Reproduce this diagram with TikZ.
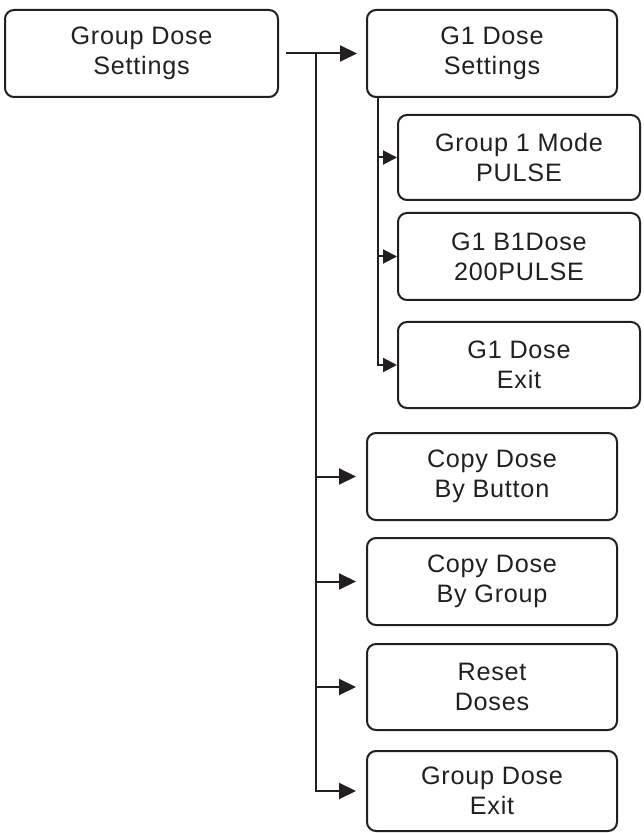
\documentclass[tikz,border=0pt]{standalone}
\usepackage{fontspec}
\setmainfont{Liberation Sans}[LetterSpace=3]
\usetikzlibrary{arrows.meta}
\definecolor{MenuInk}{RGB}{35,31,32}

\begin{document}
\begin{tikzpicture}[x=0.5pt, y=-0.5pt, every path/.style={MenuInk},
    menubox/.style={draw, line width=1pt, rounded corners=4.5pt, align=center, inner sep=0pt,
      font=\fontsize{12.6}{15}\selectfont, minimum height=43.5pt},
    wide/.style={minimum width=125pt},
    sub/.style={minimum width=121pt},
    link/.style={line width=1pt, -{Triangle[length=8.5pt, width=8pt]}}]
  \useasboundingbox (0,0) rectangle (643,833);
  \node[menubox, minimum width=136.5pt] (gds) at (141.5,53.5) {Group Dose\\Settings};
  \node[menubox, wide] (gset) at (492,53.5) {G1 Dose\\Settings};
  \node[menubox, sub, minimum height=42.5pt] (mode) at (519,157.5) {Group 1 Mode\\PULSE};
  \node[menubox, sub] (bdose) at (519,256.5) {G1 B1Dose\\200PULSE};
  \node[menubox, sub, minimum height=43pt] (gexit) at (519,365) {G1 Dose\\Exit};
  \node[menubox, wide] (cbtn) at (492,476.5) {Copy Dose\\By Button};
  \node[menubox, wide] (cgrp) at (492,581.5) {Copy Dose\\By Group};
  \node[menubox, wide, minimum height=43pt] (reset) at (492,687) {Reset\\Doses};
  \node[menubox, wide, minimum height=40pt] (gdexit) at (492,791) {Group Dose\\Exit};
  \coordinate (split) at (316,53.5);
  \coordinate (fork) at ([xshift=6pt]gset.south west);
  \draw[link, shorten <=3.5pt, shorten >=4.5pt] (gds.east) -- (gset.west);
  \foreach \name in {cbtn,cgrp,reset,gdexit}
    \draw[link, shorten >=5pt] (split) |- (\name.west);
  \foreach \name in {mode,bdose,gexit}
    \draw[link, -{Triangle[length=7pt, width=7pt]}] (fork) |- (\name.west);
\end{tikzpicture}
\end{document}
